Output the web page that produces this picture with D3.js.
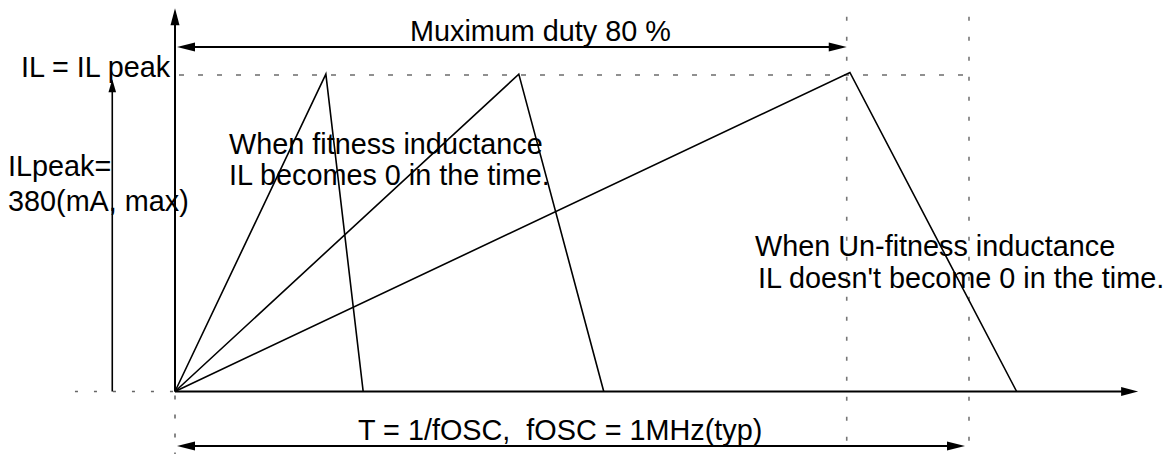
<!DOCTYPE html>
<html><head><meta charset="utf-8">
<script src="https://cdn.jsdelivr.net/npm/d3@7"></script>
<style>
body{margin:0;background:#fff}
svg{display:block}
text{font-family:"Liberation Sans",Arial,Helvetica,sans-serif;font-size:28.8px;fill:#000;white-space:pre}
</style>
</head><body>
<svg id="c" width="1175" height="454"></svg>
<script>
// ---- data (time in units of T, current in mA) ----
const waveforms = ["fitness short", "fitness long", "un-fitness"];
const peakTime = [0.190, 0.433, 0.850];
const zeroTime = [0.237, 0.540, 1.060];
const peakCurrent = [381, 381, 383];
const ilPeak = 380;
const maxDutyTime = 0.846;
const periodTime = 1.0;
const axisTimeEnd = 1.213;
const axisTimeStartDotted = -0.126;
const axisCurrentTop = 460;
const guideCurrentTop = 450;
const guideCurrentBottom = -75;
const dutyArrowCurrent = 413.6;
const periodArrowCurrent = -65.4;
const peakArrowTime = -0.079;
const peakArrowTopCurrent = 375;

const labels = {
  ilEq: "IL = IL peak",
  duty: "Muximum duty 80 %",
  fit1: "When fitness inductance",
  fit2: "IL becomes 0 in the time.",
  pk1: "ILpeak=",
  pk2: "380(mA, max)",
  unfit1: "When Un-fitness inductance",
  unfit2: "IL doesn't become 0 in the time.",
  period: "T = 1/fOSC,  fOSC = 1MHz(typ)"
};

// ---- layout ----
const svg = d3.select("#c");
const x = d3.scaleLinear().domain([0, 1]).range([175, 969]);
const y = d3.scaleLinear().domain([0, 380]).range([391.5, 75]);

function arrowHead(g, tip, from, len, hw) {
  const dx = tip[0] - from[0], dy = tip[1] - from[1];
  const d = Math.hypot(dx, dy), ux = dx / d, uy = dy / d;
  const bx = tip[0] - ux * len, by = tip[1] - uy * len;
  g.append("path")
    .attr("d", `M${tip[0]},${tip[1]}L${bx - uy * hw},${by + ux * hw}L${bx + uy * hw},${by - ux * hw}Z`)
    .attr("fill", "#000");
}
function line(g, p1, p2, opts) {
  return g.append("line").attr("x1", p1[0]).attr("y1", p1[1]).attr("x2", p2[0]).attr("y2", p2[1])
    .attr("stroke", opts.color || "#000").attr("stroke-width", opts.w || 1.5)
    .attr("stroke-dasharray", opts.dash || null);
}

const gGuides = svg.append("g");
[maxDutyTime, periodTime].forEach(t => {
  line(gGuides, [x(t), y(guideCurrentTop)], [x(t), y(guideCurrentBottom)], {color: "#777", w: 1.6, dash: "4,16"});
});
line(gGuides, [x(0), y(0) + 4], [x(0), y(guideCurrentBottom)], {color: "#555", w: 1.4, dash: "4,15"});
line(gGuides, [x(0) + 4, y(ilPeak)], [x(periodTime), y(ilPeak)], {color: "#222", w: 1.2, dash: "5,14"});
line(gGuides, [x(axisTimeStartDotted), y(0)], [x(0), y(0)], {color: "#666", w: 1.4, dash: "3,16"});

const gText = svg.append("g");
const textPos = [
  ["ilEq", 21, 77], ["duty", 410, 40.5], ["fit1", 229, 154], ["fit2", 229, 185],
  ["pk1", 8, 176], ["pk2", 8, 211], ["unfit1", 755, 256], ["unfit2", 758, 288], ["period", 358, 440]
];
textPos.forEach(([k, tx, ty]) => gText.append("text").attr("x", tx).attr("y", ty).text(labels[k]));

const gAx = svg.append("g");
line(gAx, [x(0), y(0)], [x(axisTimeEnd) - 10, y(0)], {w: 2});
arrowHead(gAx, [x(axisTimeEnd), y(0)], [x(0), y(0)], 17, 4.5);
line(gAx, [x(0), y(0)], [x(0), y(axisCurrentTop) + 10], {w: 2});
arrowHead(gAx, [x(0), y(axisCurrentTop)], [x(0), y(0)], 17, 4.5);

const dA = [x(0) + 2, y(dutyArrowCurrent)], dB = [x(maxDutyTime), y(dutyArrowCurrent)];
line(gAx, [dA[0] + 10, dA[1]], [dB[0] - 10, dB[1]], {w: 2});
arrowHead(gAx, dA, dB, 18, 4.5);
arrowHead(gAx, dB, dA, 18, 4.5);
const pA = [x(0) + 2, y(periodArrowCurrent)], pB = [x(periodTime) - 4, y(periodArrowCurrent)];
line(gAx, [pA[0] + 10, pA[1]], [pB[0] - 10, pB[1]], {w: 2});
arrowHead(gAx, pA, pB, 18, 4.5);
arrowHead(gAx, pB, pA, 18, 4.5);
const kA = [x(peakArrowTime), y(0)], kB = [x(peakArrowTime), y(peakArrowTopCurrent)];
line(gAx, kA, [kB[0], kB[1] + 8], {w: 1.6});
arrowHead(gAx, kB, kA, 13, 3.8);

const gW = svg.append("g");
const lineGen = d3.line().x(d => x(d[0])).y(d => y(d[1]));
waveforms.forEach((name, i) => {
  gW.append("path")
    .attr("d", lineGen([[0, 0], [peakTime[i], peakCurrent[i]], [zeroTime[i], 0]]))
    .attr("fill", "none").attr("stroke", "#000").attr("stroke-width", 1.6)
    .attr("stroke-linejoin", "miter");
});
</script>
</body></html>
